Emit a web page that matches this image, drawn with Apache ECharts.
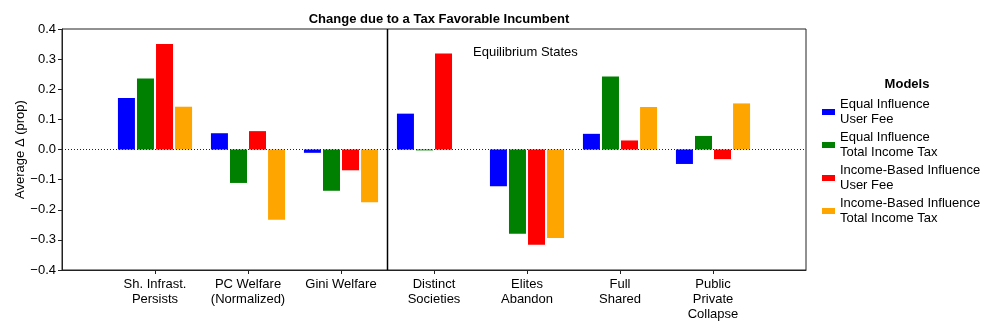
<!DOCTYPE html>
<html>
<head>
    <meta charset="utf-8">
    <title>Change due to a Tax Favorable Incumbent</title>
    <script src="https://cdn.jsdelivr.net/npm/echarts@6/dist/echarts.min.js"></script>
</head>
<body style="margin:0;background:#fff;">
    <div id="main" style="width:997px;height:332px;"></div>
    <script type="text/javascript">
var categories = ['Sh. Infrast.\nPersists', 'PC Welfare\n(Normalized)', 'Gini Welfare',
    'Distinct\nSocieties', 'Elites\nAbandon', 'Full\nShared', 'Public\nPrivate\nCollapse'];
var modelNames = ['Equal Influence\nUser Fee', 'Equal Influence\nTotal Income Tax',
    'Income-Based Influence\nUser Fee', 'Income-Based Influence\nTotal Income Tax'];
var modelColors = ['#0000ff', '#008000', '#ff0000', '#ffa500'];

// values
var eqUserFee      = [0.171, 0.054, -0.011, 0.119, -0.122, 0.052, -0.048];
var eqIncomeTax    = [0.236, -0.111, -0.137, -0.003, -0.280, 0.242, 0.045];
var incUserFee     = [0.350, 0.061, -0.069, 0.319, -0.316, 0.030, -0.032];
var incIncomeTax   = [0.142, -0.233, -0.175, 0, -0.294, 0.141, 0.153];
var yTicks = [-0.4, -0.3, -0.2, -0.1, 0.0, 0.1, 0.2, 0.3, 0.4];

var font = 'Liberation Sans';
var allData = [eqUserFee, eqIncomeTax, incUserFee, incIncomeTax];
// pad one empty slot each side so the categories sit like the original x range
var xCats = [''].concat(categories).concat(['']);

var series = allData.map(function (d, i) {
    var s = {
        name: modelNames[i],
        type: 'bar',
        barWidth: 17,
        barGap: '12%',
        itemStyle: { color: modelColors[i] },
        data: [null].concat(d).concat([null])
    };
    if (i === 0) {
        s.markLine = {
            silent: true,
            symbol: 'none',
            label: { show: false },
            lineStyle: { color: '#222', type: [1, 2], width: 1 },
            data: [{ yAxis: 0 }]
        };
    }
    return s;
});

var myChart = echarts.init(document.getElementById('main'));
var option = {
    backgroundColor: '#fff',
    animation: false,
    textStyle: { fontFamily: font },
    title: [{
        text: 'Change due to a Tax Favorable Incumbent',
        left: 434, top: 8, textAlign: 'center',
        textStyle: { fontFamily: font, fontSize: 13, fontWeight: 'bold', color: '#000' }
    }, {
        text: 'Models',
        left: 902, top: 73, textAlign: 'center',
        textStyle: { fontFamily: font, fontSize: 13, fontWeight: 'bold', color: '#000' }
    }],
    legend: {
        orient: 'vertical',
        left: 817, top: 92,
        icon: 'rect',
        itemWidth: 13, itemHeight: 6,
        itemGap: 3,
        textStyle: { fontFamily: font, fontSize: 13, color: '#000', lineHeight: 15 },
        data: modelNames
    },
    grid: {
        left: 62, right: 191, top: 29, bottom: 62,
        show: true, borderColor: '#222', borderWidth: 1
    },
    xAxis: {
        type: 'category',
        data: xCats,
        boundaryGap: false,
        axisLine: { onZero: false, lineStyle: { color: '#222' } },
        axisTick: {
            length: 4,
            lineStyle: { color: '#222' },
            interval: function (idx) { return idx > 0 && idx < xCats.length - 1; }
        },
        axisLabel: {
            interval: 0, color: '#000', fontSize: 13, lineHeight: 15, margin: 7,
            fontFamily: font
        },
        splitLine: { show: false }
    },
    yAxis: {
        type: 'value',
        min: yTicks[0], max: yTicks[yTicks.length - 1], interval: 0.1,
        name: 'Average Δ (prop)',
        nameLocation: 'middle',
        nameGap: 35,
        nameMoveOverlap: false,
        nameTextStyle: { fontFamily: font, fontSize: 13, color: '#000' },
        axisLine: { show: true, onZero: false, lineStyle: { color: '#222' } },
        axisTick: { show: true, length: 4, lineStyle: { color: '#222' } },
        axisLabel: {
            color: '#000', fontSize: 13, margin: 6, fontFamily: font,
            formatter: function (v) { return v.toFixed(1).replace('-', '\u2212'); }
        },
        splitLine: { show: false }
    },
    series: series
};
myChart.setOption(option);

// vertical divider between the outcome measures and the equilibrium states
var xa = myChart.convertToPixel({ xAxisIndex: 0 }, 3);
var xb = myChart.convertToPixel({ xAxisIndex: 0 }, 4);
var yTop = myChart.convertToPixel({ yAxisIndex: 0 }, 0.4);
var yBot = myChart.convertToPixel({ yAxisIndex: 0 }, -0.4);
myChart.setOption({
    graphic: [{
        type: 'line',
        shape: { x1: (xa + xb) / 2, y1: yTop, x2: (xa + xb) / 2, y2: yBot },
        style: { stroke: '#000', lineWidth: 1.5 },
        z: 10
    }, {
        type: 'text',
        left: 473, top: 46,
        style: { text: 'Equilibrium States', font: '13px "Liberation Sans"', fill: '#000' }
    }]
});
    </script>
</body>
</html>
